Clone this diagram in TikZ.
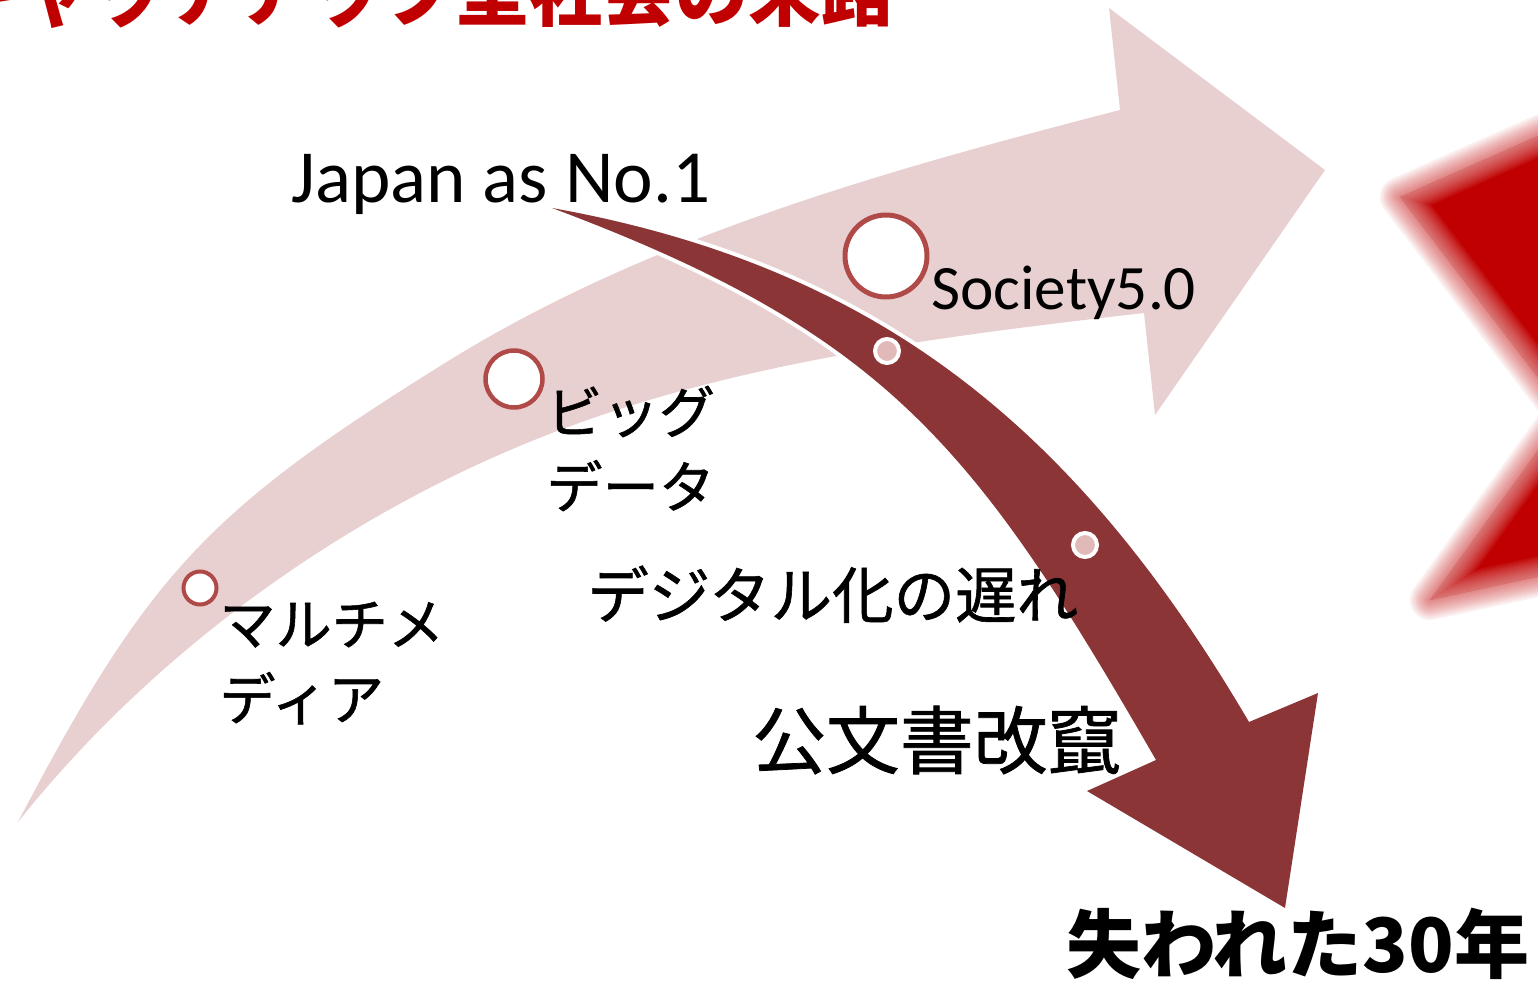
\documentclass[tikz,border=0pt]{standalone}
\usepackage{fontspec}
\setmainfont{Carlito}
\newfontfamily\jp[FakeBold=1]{Noto Sans CJK JP}
\newfontfamily\jpb{Noto Sans CJK JP}
\definecolor{bandpink}{HTML}{E8D0D1}
\definecolor{darkred}{HTML}{8B3536}
\definecolor{ringred}{HTML}{B04A48}
\definecolor{dotpink}{HTML}{E0B9B8}
\definecolor{titlered}{HTML}{C00000}
\begin{document}
\begin{tikzpicture}[x=0.02cm,y=-0.02cm,
  lbl/.style={inner sep=0pt, anchor=base west},
  jpm/.style={lbl, font={\jp\fontsize{32}{38}\selectfont}},
  bigring/.style={draw=ringred, fill=white},
  dot/.style={draw=white, line width=0.08cm, fill=dotpink}]
\useasboundingbox (0,0) rectangle (1538,983);
\clip (0,0) rectangle (1538,983);

% light rising arrow
\fill[bandpink] (18,822) .. controls (148,574) and (207,511) .. (445,363)
  .. controls (649,236) and (888,170) .. (1120,110)
  -- (1109,8) -- (1325,170) -- (1155,415) -- (1144,313)
  .. controls (945,336) and (739,361) .. (552,433)
  .. controls (347,512) and (155,650) .. (18,822) -- cycle;

% rings on the light arrow
\node[bigring, circle, line width=0.1cm, minimum size=1.64cm, inner sep=0pt] (c3) at (886,256) {};
\node[bigring, circle, line width=0.09cm, minimum size=1.14cm, inner sep=0pt] (c2) at (514,379) {};
\node[bigring, circle, line width=0.08cm, minimum size=0.66cm, inner sep=0pt] (c1) at (200,588) {};

% dark falling arrow (white outline behind the fill)
\fill[darkred, preaction={draw=white, line width=0.16cm, line join=round}]
  (552,208) .. controls (887,268) and (1082,438) .. (1249,722)
  -- (1318,693) -- (1285,908) -- (1087,791) -- (1156,760)
  .. controls (976,448) and (889,334) .. (552,208) -- cycle;

\node[dot, circle, minimum size=0.48cm, inner sep=0pt] (d1) at (887,351) {};
\node[dot, circle, minimum size=0.48cm, inner sep=0pt] (d2) at (1085,545) {};

% blurred red chevron at right
\begin{scope}
\foreach \w in {0.8,0.72,0.64,0.56,0.48,0.40,0.32,0.24,0.16,0.08}{
  \draw[titlered, opacity=0.06, line width=\w cm, line join=round]
    (1400,197) -- (1800,20) -- (1800,520) -- (1430,600) -- (1565,413) -- cycle;}
\fill[titlered] (1400,197) -- (1800,20) -- (1800,520) -- (1430,600) -- (1565,413) -- cycle;
\clip (1400,197) -- (1800,20) -- (1800,520) -- (1430,600) -- (1565,413) -- cycle;
\foreach \w in {0.8,0.72,0.64,0.56,0.48,0.40,0.32,0.24,0.16,0.08}{
  \draw[white, opacity=0.06, line width=\w cm, line join=round]
    (1400,197) -- (1800,20) -- (1800,520) -- (1430,600) -- (1565,413) -- cycle;}
\end{scope}

% texts
\node[lbl, text=titlered, font={\jpb\bfseries\fontsize{41.5}{50}\selectfont}] (title) at (-54,21) {キャッチアップ型社会の末路};
\node[lbl, font={\fontsize{42.7}{51}\selectfont}] (jpn) at (291,203) {Japan as No.1};
\node[lbl, font={\fontsize{36}{43}\selectfont}] (soc) at (931,309) {Society5.0};
\node[jpm] (big1) at (546,433) {ビッグ};
\node[jpm] (big2) at (546,508) {データ};
\node[jpm] (mm1) at (219,645) {マルチメ};
\node[jpm] (mm2) at (219,720) {ディア};
\node[lbl, font={\jp\fontsize{35}{42}\selectfont}] (dig) at (587,618) {デジタル化の遅れ};
\node[lbl, font={\jp\fontsize{42}{50}\selectfont}] (doc) at (752,768) {公文書改竄};
\node[lbl, font={\jpb\bfseries\fontsize{42.7}{51}\selectfont}] (lost) at (1066,972) {失われた30年};
\end{tikzpicture}
\end{document}
